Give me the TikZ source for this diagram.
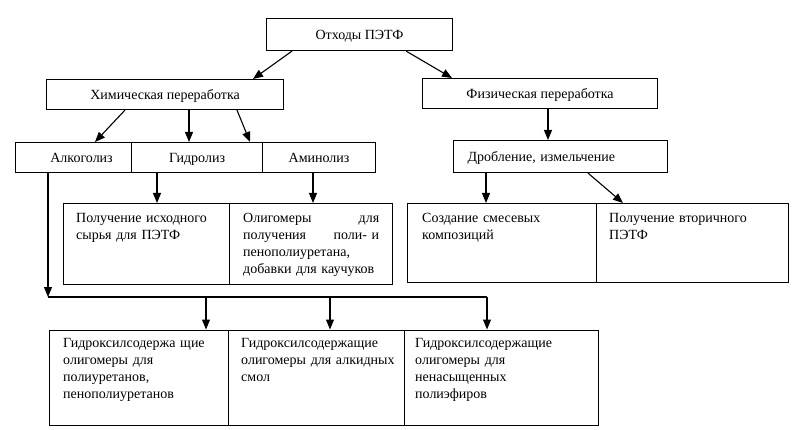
\documentclass[tikz,border=0pt]{standalone}
\usepackage{fontspec}
\setmainfont{Liberation Serif}
\usetikzlibrary{arrows.meta}
\begin{document}
\begin{tikzpicture}[x=1pt,y=-1pt,
  box/.style={draw, line width=1.1pt, inner sep=0pt, anchor=north west, text height=9pt, text depth=0pt, font=\fontsize{14}{17}\selectfont},
  frame/.style={draw, line width=1.1pt, inner sep=0pt, anchor=north west},
  txt/.style={inner sep=0pt, anchor=base west, align=left, font=\fontsize{14}{17}\selectfont},
  arr/.style={line width=1.1pt, -{Triangle[length=10pt,width=8pt]}},
  ln/.style={line width=1.1pt}]
\useasboundingbox (0,0) rectangle (800,430);
% boxes
\node[box, minimum width=186pt, minimum height=32pt] (top) at (266,18) {Отходы ПЭТФ};
\node[box, minimum width=237pt, minimum height=30pt] (chem) at (46,79) {Химическая переработка};
\node[box, minimum width=235pt, minimum height=30pt] (phys) at (422,78) {Физическая переработка};
\node[box, minimum width=116pt, minimum height=30pt] (alk) at (15,142) {\hspace*{16pt}Алкоголиз};
\node[box, minimum width=131pt, minimum height=30pt] (gid) at (131,142) {Гидролиз};
\node[box, minimum width=113pt, minimum height=30pt] (amin) at (262,142) {Аминолиз};
\node[box, minimum width=214pt, minimum height=32pt, text width=186pt, align=left, inner xsep=14pt] (drob) at (453,140) {Дробление, измельчение};
\node[frame, minimum width=166pt, minimum height=80.5pt] (m1) at (63,203) {};
\node[frame, minimum width=163pt, minimum height=80.5pt] (m2) at (229,203) {};
\node[frame, minimum width=189pt, minimum height=79pt] (r1) at (407,203) {};
\node[frame, minimum width=192pt, minimum height=79pt] (r2) at (596,203) {};
\node[frame, minimum width=179pt, minimum height=95pt] (b1) at (49,329.5) {};
\node[frame, minimum width=176pt, minimum height=95pt] (b2) at (228,329.5) {};
\node[frame, minimum width=194pt, minimum height=95pt] (b3) at (404,329.5) {};
% texts
\node[txt, text width=150pt] (m1t) at (76,222.5) {Получение исходного\\сырья для ПЭТФ};
\node[txt, text width=136pt] (m2t) at (243,222.5) {\makebox[136pt][s]{Олигомеры\hfill для}\\\makebox[136pt][s]{получения\hfill поли-\ и}\\пенополиуретана,\\добавки для каучуков};
\node[txt, text width=170pt] (r1t) at (422,223) {Создание смесевых\\композиций};
\node[txt, text width=170pt] (r2t) at (609,223) {Получение вторичного\\ПЭТФ};
\node[txt, text width=165pt] (b1t) at (63,347.5) {Гидроксилсодержа щие\\олигомеры для\\полиуретанов,\\пенополиуретанов};
\node[txt, text width=165pt] (b2t) at (241,347.5) {Гидроксилсодержащие\\олигомеры для алкидных\\смол};
\node[txt, text width=180pt] (b3t) at (415,347.5) {Гидроксилсодержащие\\олигомеры для\\ненасыщенных\\полиэфиров};
% connectors
\draw[arr] ([xshift=26pt]top.south west) -- ([xshift=207pt]chem.north west);
\draw[arr] ([xshift=-47pt]top.south east) -- ([xshift=30pt]phys.north west);
\draw[arr] ([xshift=79pt]chem.south west) -- ([xshift=80pt]alk.north west);
\draw[arr] ([xshift=143pt]chem.south west) -- ([xshift=58pt]gid.north west);
\draw[arr] ([xshift=191pt]chem.south west) -- ([xshift=119pt]gid.north west);
\draw[arr] ([xshift=26pt]gid.south west) -- ([xshift=94pt]m1.north west);
\draw[arr] ([xshift=51pt]amin.south west) -- ([xshift=84pt]m2.north west);
\draw[arr] ([xshift=126pt]phys.south west) -- ([xshift=95pt]drob.north west);
\draw[arr] ([xshift=33pt]drob.south west) -- ([xshift=79pt]r1.north west);
\draw[arr] ([xshift=135pt]drob.south west) -- ([xshift=27pt]r2.north west);
% bus
\coordinate (busL) at (48,297);
\coordinate (bus1) at (206,297);
\coordinate (bus2) at (330,297);
\coordinate (busR) at (487,297);
\draw[arr] ([xshift=33pt]alk.south west) -- (busL);
\draw[ln] (busL) -- (busR);
\draw[arr] (bus1) -- (bus1 |- b1.north);
\draw[arr] (bus2) -- (bus2 |- b2.north);
\draw[arr] (busR) -- (busR |- b3.north);
\end{tikzpicture}
\end{document}
